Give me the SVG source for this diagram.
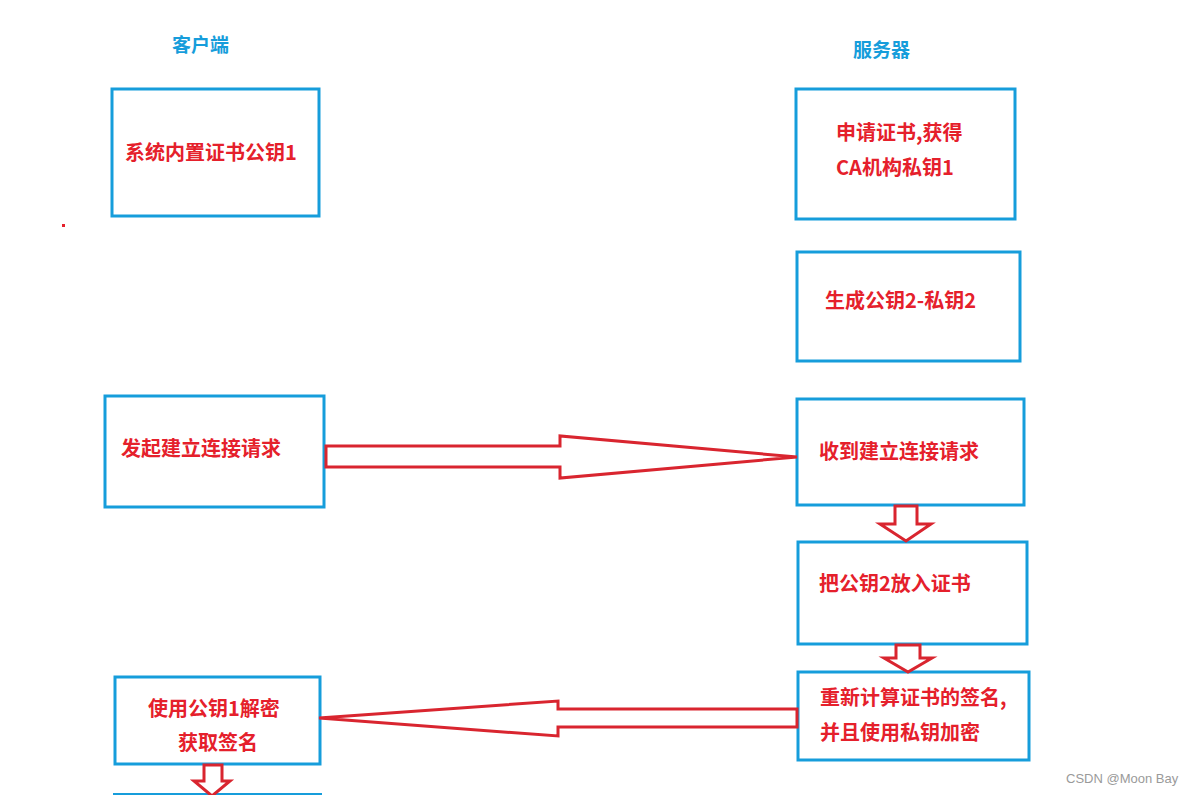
<svg xmlns="http://www.w3.org/2000/svg" width="1195" height="795" viewBox="0 0 1195 795">
<style>
.box{fill:#fff;stroke:#169ddb;stroke-width:3}
.t{font-family:"Noto Sans CJK SC","Noto Sans",sans-serif;font-weight:bold;font-size:20px;fill:#e5202b}
.h{font-family:"Noto Sans CJK SC","Noto Sans",sans-serif;font-weight:bold;font-size:19px;fill:#169ddb}
.arr{fill:#fff;stroke:#d9252f;stroke-width:3;stroke-linejoin:miter}
.wm{font-family:"Liberation Sans",Arial,sans-serif;font-size:13px;fill:#9a9a9a}
</style>
<rect width="1195" height="795" fill="#fff"/>
<text class="h" x="172" y="52">客户端</text>
<text class="h" x="853" y="57">服务器</text>
<rect x="62" y="224" width="3" height="3" fill="#e5202b"/>
<g id="client1"><rect class="box" x="112" y="89" width="207" height="127"/><text class="t" x="125" y="160">系统内置证书公钥1</text></g>
<g id="client2"><rect class="box" x="105" y="396" width="219" height="111"/><text class="t" x="121" y="456">发起建立连接请求</text></g>
<g id="client3"><rect class="box" x="115" y="677" width="205" height="87"/><text class="t" x="148" y="716">使用公钥1解密</text><text class="t" x="178" y="750">获取签名</text></g>
<g id="server1"><rect class="box" x="796" y="89" width="219" height="130"/><text class="t" x="836" y="140">申请证书,获得</text><text class="t" x="836" y="175">CA机构私钥1</text></g>
<g id="server2"><rect class="box" x="797" y="252" width="223" height="109"/><text class="t" x="825" y="308">生成公钥2-私钥2</text></g>
<g id="server3"><rect class="box" x="797" y="399" width="227" height="106"/><text class="t" x="819" y="459">收到建立连接请求</text></g>
<g id="server4"><rect class="box" x="798" y="542" width="229" height="102"/><text class="t" x="819" y="591">把公钥2放入证书</text></g>
<g id="server5"><rect class="box" x="798" y="672" width="231" height="88"/><text class="t" x="820" y="705">重新计算证书的签名,</text><text class="t" x="820" y="740">并且使用私钥加密</text></g>
<line x1="113" y1="794" x2="322" y2="794" stroke="#169ddb" stroke-width="2"/>
<g id="connectors">
<polygon class="arr" points="326,446 560,446 560,436 797,457 560,478 560,467 326,467"/>
<polygon class="arr" points="797,709 558,709 558,701 319,718 558,736 558,727 797,727"/>
<polygon class="arr" points="895,506 917,506 917,524 931,524 906,541 880,524 895,524"/>
<polygon class="arr" points="896,645 920,645 920,658 932,658 908,672 884,658 896,658"/>
<polygon class="arr" points="204,765 222,765 222,781 230,781 212,796 194,781 204,781"/>
</g>
<text class="wm" x="1066" y="783">CSDN @Moon Bay</text>
</svg>
